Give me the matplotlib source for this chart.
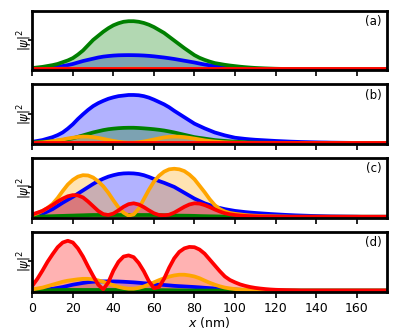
import matplotlib
matplotlib.use('Agg')
import matplotlib.pyplot as plt
import numpy as np

# x positions (nm), every 2.5 nm
x = np.arange(0, 177.5, 2.5)

def pad(vals):
    # values, zero beyond the last one
    return np.array(vals + [0.0] * (len(x) - len(vals)))

# panel (a)
blue_a = pad([0.0, 0.005, 0.01, 0.02, 0.03, 0.04, 0.055, 0.07, 0.09, 0.115, 0.14, 0.16, 0.18,
              0.2, 0.215, 0.225, 0.233, 0.238, 0.24, 0.241, 0.24, 0.238, 0.234, 0.228, 0.22,
              0.21, 0.2, 0.188, 0.175, 0.16, 0.145, 0.13, 0.115, 0.097, 0.08, 0.067, 0.055,
              0.044, 0.035, 0.027, 0.02, 0.016, 0.012, 0.009, 0.007, 0.005, 0.004, 0.003, 0.002])
green_a = pad([0.02, 0.03, 0.04, 0.055, 0.07, 0.09, 0.12, 0.15, 0.19, 0.25, 0.32, 0.41, 0.5,
               0.57, 0.64, 0.7, 0.75, 0.785, 0.81, 0.82, 0.82, 0.81, 0.79, 0.76, 0.72, 0.67,
               0.62, 0.555, 0.49, 0.425, 0.36, 0.3, 0.24, 0.195, 0.16, 0.13, 0.105, 0.09, 0.075,
               0.063, 0.053, 0.043, 0.035, 0.028, 0.022, 0.018, 0.014, 0.011, 0.008, 0.006,
               0.005, 0.004, 0.003])
orange_a = pad([0.0, 0.002, 0.003, 0.005, 0.006, 0.007, 0.008, 0.008, 0.008, 0.007, 0.006,
                0.005, 0.003, 0.002, 0.002, 0.003, 0.004, 0.005, 0.007, 0.008, 0.008, 0.008,
                0.007, 0.006, 0.005, 0.004, 0.003, 0.002, 0.001])
red_a = pad([])

# panel (b)
blue_b = pad([0.02, 0.035, 0.05, 0.075, 0.1, 0.135, 0.18, 0.245, 0.32, 0.41, 0.49, 0.565, 0.63,
              0.68, 0.72, 0.755, 0.78, 0.8, 0.81, 0.82, 0.82, 0.815, 0.8, 0.775, 0.74, 0.7, 0.66,
              0.61, 0.55, 0.495, 0.44, 0.385, 0.33, 0.29, 0.25, 0.215, 0.18, 0.155, 0.13, 0.11,
              0.09, 0.08, 0.07, 0.062, 0.055, 0.05, 0.045, 0.04, 0.035, 0.031, 0.027, 0.023,
              0.02, 0.017, 0.015, 0.013, 0.011, 0.009, 0.008, 0.006, 0.005, 0.004, 0.003,
              0.002, 0.002])
green_b = pad([0.01, 0.015, 0.02, 0.025, 0.03, 0.04, 0.05, 0.065, 0.08, 0.105, 0.13, 0.155, 0.18,
               0.2, 0.22, 0.235, 0.245, 0.253, 0.258, 0.26, 0.26, 0.256, 0.25, 0.243, 0.235,
               0.225, 0.213, 0.197, 0.18, 0.16, 0.14, 0.12, 0.1, 0.087, 0.075, 0.062, 0.05,
               0.042, 0.035, 0.028, 0.022, 0.018, 0.014, 0.011, 0.008, 0.006, 0.005, 0.004,
               0.003])
orange_b = pad([0.0, 0.005, 0.01, 0.02, 0.03, 0.045, 0.06, 0.077, 0.09, 0.103, 0.11, 0.108, 0.1,
                0.087, 0.07, 0.052, 0.035, 0.02, 0.01, 0.005, 0.006, 0.013, 0.025, 0.042, 0.06,
                0.078, 0.095, 0.105, 0.11, 0.107, 0.1, 0.088, 0.075, 0.06, 0.045, 0.034, 0.025,
                0.018, 0.012, 0.008, 0.006, 0.004, 0.003])
red_b = pad([])

# panel (c)
blue_c = pad([0.01, 0.03, 0.05, 0.09, 0.13, 0.185, 0.24, 0.29, 0.34, 0.395, 0.45, 0.505, 0.56,
              0.61, 0.65, 0.685, 0.71, 0.73, 0.74, 0.743, 0.74, 0.73, 0.71, 0.68, 0.645, 0.61,
              0.58, 0.545, 0.51, 0.46, 0.41, 0.36, 0.31, 0.27, 0.23, 0.2, 0.17, 0.15, 0.13,
              0.115, 0.1, 0.09, 0.08, 0.072, 0.065, 0.059, 0.053, 0.047, 0.042, 0.037, 0.032,
              0.028, 0.024, 0.021, 0.018, 0.015, 0.013, 0.011, 0.009, 0.007, 0.006, 0.005,
              0.004, 0.003, 0.002])
green_c = pad([0.0, 0.003, 0.005, 0.008, 0.01, 0.013, 0.015, 0.018, 0.02, 0.023, 0.025, 0.028,
               0.03, 0.03, 0.03, 0.03, 0.03, 0.03, 0.03, 0.03, 0.03, 0.03, 0.03, 0.03, 0.03,
               0.028, 0.025, 0.022, 0.02, 0.019, 0.018, 0.017, 0.015, 0.012, 0.01, 0.008,
               0.007, 0.005, 0.004, 0.003, 0.002])
orange_c = pad([0.03, 0.06, 0.1, 0.15, 0.22, 0.32, 0.44, 0.55, 0.63, 0.685, 0.71, 0.705, 0.67,
                0.605, 0.52, 0.41, 0.28, 0.16, 0.07, 0.02, 0.04, 0.14, 0.3, 0.46, 0.6, 0.7,
                0.77, 0.81, 0.82, 0.81, 0.78, 0.72, 0.64, 0.53, 0.42, 0.3, 0.2, 0.13, 0.09,
                0.065, 0.05, 0.04, 0.03, 0.023, 0.018, 0.014, 0.01, 0.008, 0.006, 0.004, 0.003])
red_c = pad([0.04, 0.07, 0.1, 0.15, 0.2, 0.26, 0.31, 0.35, 0.37, 0.365, 0.33, 0.26, 0.18, 0.1,
             0.045, 0.03, 0.055, 0.11, 0.17, 0.215, 0.23, 0.21, 0.165, 0.11, 0.06, 0.03, 0.025,
             0.035, 0.07, 0.12, 0.17, 0.21, 0.23, 0.225, 0.2, 0.165, 0.125, 0.09, 0.06, 0.042,
             0.03, 0.021, 0.015, 0.011, 0.008, 0.006, 0.004, 0.003, 0.002])

# panel (d)
blue_d = pad([0.0, 0.005, 0.01, 0.02, 0.03, 0.045, 0.06, 0.08, 0.1, 0.115, 0.13, 0.142, 0.15,
              0.154, 0.156, 0.157, 0.156, 0.154, 0.15, 0.145, 0.14, 0.133, 0.125, 0.118, 0.11,
              0.103, 0.095, 0.088, 0.08, 0.075, 0.07, 0.065, 0.06, 0.054, 0.047, 0.041, 0.035,
              0.03, 0.025, 0.021, 0.017, 0.013, 0.01, 0.008, 0.006, 0.004, 0.003])
green_d = pad([0.0, 0.002, 0.003, 0.005, 0.006, 0.008, 0.01, 0.01, 0.01, 0.01, 0.01, 0.01,
               0.01, 0.01, 0.01, 0.01, 0.01, 0.01, 0.01, 0.01, 0.01, 0.01, 0.01, 0.009, 0.008,
               0.007, 0.006, 0.005, 0.004, 0.003, 0.002])
orange_d = pad([0.02, 0.035, 0.05, 0.075, 0.1, 0.125, 0.15, 0.168, 0.18, 0.192, 0.2, 0.2, 0.19,
                0.173, 0.15, 0.12, 0.09, 0.063, 0.043, 0.032, 0.032, 0.045, 0.07, 0.103, 0.14,
                0.177, 0.21, 0.238, 0.258, 0.27, 0.27, 0.258, 0.24, 0.21, 0.17, 0.133, 0.1,
                0.072, 0.05, 0.036, 0.025, 0.018, 0.012, 0.008, 0.006, 0.004, 0.003])
red_d = pad([0.08, 0.2, 0.34, 0.49, 0.62, 0.74, 0.82, 0.85, 0.82, 0.72, 0.58, 0.41, 0.25, 0.1,
             0.02, 0.14, 0.34, 0.49, 0.58, 0.6, 0.57, 0.47, 0.33, 0.16, 0.04, 0.06, 0.2, 0.39,
             0.55, 0.66, 0.72, 0.745, 0.74, 0.7, 0.63, 0.53, 0.43, 0.33, 0.24, 0.18, 0.14,
             0.105, 0.08, 0.06, 0.045, 0.034, 0.025, 0.018, 0.013, 0.01, 0.007, 0.005, 0.003])

panels = ['(a)', '(b)', '(c)', '(d)']
series = [
    [blue_a, green_a, orange_a, red_a],
    [blue_b, green_b, orange_b, red_b],
    [blue_c, green_c, orange_c, red_c],
    [blue_d, green_d, orange_d, red_d],
]
colors = ['blue', 'green', 'orange', 'red']

fig, axes = plt.subplots(4, 1, sharex=True, figsize=(3.99, 3.33), dpi=100)
fig.subplots_adjust(left=0.081, right=0.970, top=0.968, bottom=0.124, hspace=0.235)

for ax, label, curves in zip(axes, panels, series):
    for y, c in zip(curves, colors):
        ax.fill_between(x, 0, y, color=c, alpha=0.3, lw=0)
        ax.plot(x, y, color=c, lw=2.7, solid_joinstyle='round')
    ax.set_xlim(0, 175)
    ax.set_ylim(-0.02, 1.0)
    ax.set_yticks([0.5])
    ax.set_yticklabels([r'$|\psi|^2$'], rotation=90, va='center', fontsize=8.5)
    ax.text(0.985, 0.93, label, transform=ax.transAxes, ha='right', va='top', fontsize=8.5)
    for s in ax.spines.values():
        s.set_linewidth(2)
    ax.tick_params(axis='x', direction='out', length=4, width=1.2, labelsize=9)
    ax.tick_params(axis='y', direction='out', length=3, width=1.2, pad=-5)

axes[-1].set_xticks([0, 20, 40, 60, 80, 100, 120, 140, 160])
axes[-1].set_xlabel(r'$x$ (nm)', fontsize=9, labelpad=0)

fig.savefig('out.png', dpi=100)
